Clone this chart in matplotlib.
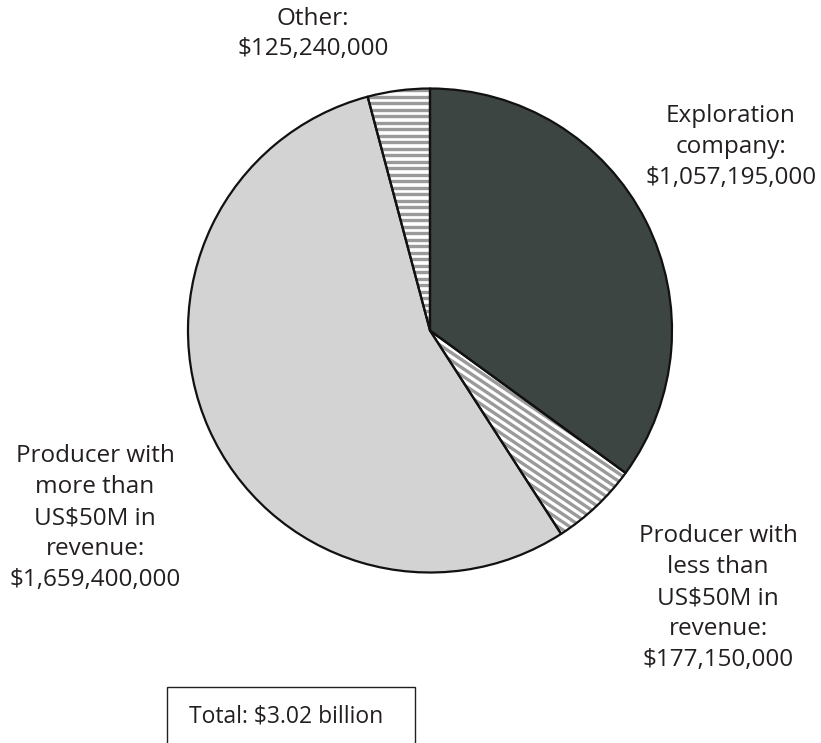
import numpy as np
import matplotlib
matplotlib.use("Agg")
import matplotlib.pyplot as plt
from matplotlib.collections import LineCollection
from matplotlib.patches import Rectangle, PathPatch

# Funding by company type (US$)
categories = [
    "Exploration\ncompany:",
    "Producer with\nless than\nUS$50M in\nrevenue:",
    "Producer with\nmore than\nUS$50M in\nrevenue:",
    "Other:",
]
values = [1057195000, 177150000, 1659400000, 125240000]
value_labels = ["$1,057,195,000", "$177,150,000", "$1,659,400,000", "$125,240,000"]
total_label = "Total: $3.02 billion"

plt.rcParams["font.family"] = ["Open Sans", "DejaVu Sans"]
TEXT = "#231f20"
EDGE = "#111111"

W, H, DPI = 821, 743, 100
R_PX = 242.0
CX, CY = 430.0, 330.5

fig = plt.figure(figsize=(W / DPI, H / DPI), dpi=DPI)
ax = fig.add_axes([0, 0, 1, 1])

fills = ["#3d4543", "white", "#d3d3d3", "white"]
wedges, _ = ax.pie(
    values,
    startangle=90,
    counterclock=False,
    colors=fills,
    radius=1.0,
    wedgeprops=dict(edgecolor="none", linewidth=0),
)

# stripe fills for the two patterned slices, clipped to their wedges
def stripes(wedge, angle_deg, spacing_px, color="#9a9a9a", lw=2.4):
    a = np.deg2rad(angle_deg)
    d = np.array([np.cos(a), np.sin(a)])
    n = np.array([-np.sin(a), np.cos(a)])
    s = spacing_px / R_PX
    segs = []
    for k in range(-int(1.2 / s), int(1.2 / s) + 1):
        c = n * k * s
        segs.append([c - 1.3 * d, c + 1.3 * d])
    lc = LineCollection(segs, colors=color, linewidths=lw, zorder=2)
    ax.add_collection(lc)
    lc.set_clip_path(wedge)

stripes(wedges[1], -34, 6.5)
stripes(wedges[3], 0, 6.5)

# slice outlines on top of the stripes
for w in wedges:
    ax.add_patch(PathPatch(w.get_path(), fill=False, edgecolor=EDGE,
                           linewidth=1.6, zorder=5, joinstyle="round"))

ax.set_xlim(-CX / R_PX, (W - CX) / R_PX)
ax.set_ylim(-(H - CY) / R_PX, CY / R_PX)
ax.set_aspect("auto")
ax.axis("off")

def px(x, y):
    return (x - CX) / R_PX, (CY - y) / R_PX

label_pos = [px(731, 147), px(718, 598), px(95, 518), px(313, 34)]
for cat, val, (x, y) in zip(categories, value_labels, label_pos):
    ax.text(x, y, f"{cat}\n{val}", ha="center", va="center", fontsize=17.5,
            color=TEXT, linespacing=1.38)

# total box, running off the bottom edge
bx0, by0 = px(167, 687)
bx1, _ = px(415, 687)
_, by1 = px(167, 760)
ax.add_patch(Rectangle((bx0, by1), bx1 - bx0, by0 - by1, fill=False,
                       edgecolor=TEXT, linewidth=1.0, clip_on=False))
tx, ty = px(286, 716)
ax.text(tx, ty, total_label, ha="center", va="center", fontsize=16.5, color=TEXT)

fig.savefig("out.png", dpi=DPI)
